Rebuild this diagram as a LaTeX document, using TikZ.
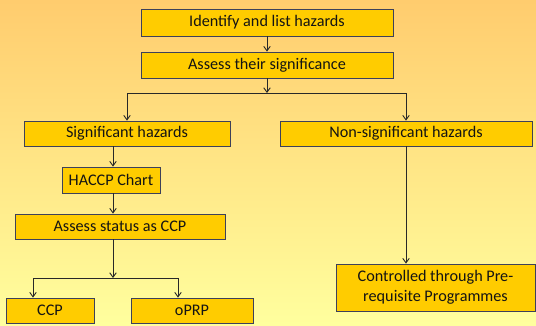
\documentclass[tikz,border=0pt]{standalone}
\usepackage{fontspec}
\setmainfont{Carlito}
\usetikzlibrary{arrows.meta}
\definecolor{bgtop}{RGB}{255,204,110}
\definecolor{bgbot}{RGB}{255,255,158}
\definecolor{boxfill}{RGB}{255,204,0}
\definecolor{boxline}{RGB}{60,64,90}
\definecolor{conline}{RGB}{40,40,40}
\tikzset{
  stepbox/.style={draw=boxline, line width=0.8pt, fill=boxfill, rectangle, inner sep=0pt,
    font=\fontsize{16.2}{20}\selectfont, text={rgb,255:red,20;green,20;blue,20}, align=center},
  conn/.style={draw=conline, line width=0.9pt},
  arr/.style={conn, -{Straight Barb[length=4.5pt,width=6.5pt]}}
}
\begin{document}
\begin{tikzpicture}[x=1pt,y=-1pt]
\shade[top color=bgtop, bottom color=bgbot] (0,0) rectangle (536,325);
\useasboundingbox (0,0) rectangle (536,325);

\node[stepbox, minimum width=252pt, minimum height=27pt] (b1) at (267,22.5) {Identify and list hazards};
\node[stepbox, minimum width=252pt, minimum height=26pt] (b2) at (267,65) {Assess their significance};
\node[stepbox, minimum width=206pt, minimum height=25pt] (sig) at (127,133.5) {Significant hazards};
\node[stepbox, minimum width=252pt, minimum height=25pt] (nonsig) at (406,133.5) {Non-significant hazards};
\node[stepbox, minimum width=98pt, minimum height=26pt] (haccp) at (111,180) {HACCP Chart};
\node[stepbox, minimum width=210pt, minimum height=25pt] (assess) at (120,226.5) {Assess status as CCP};
\node[stepbox, minimum width=88pt, minimum height=25pt] (ccp) at (50,310.5) {CCP};
\node[stepbox, minimum width=122pt, minimum height=25pt] (oprp) at (192,310.5) {oPRP};
\node[stepbox, minimum width=199pt, minimum height=47pt] (ctrl) at (435.5,287.5) {Controlled through Pre-\\requisite Programmes};

\coordinate (j1) at (267,93);
\coordinate (cx) at (113,0);
\coordinate (j2) at (113,278);
\coordinate (xccp) at (33,0);
\coordinate (xoprp) at (178,0);

\draw[arr] (b1) -- (b2);
\draw[arr] (b2) -- (j1);
\draw[arr] (j1) -| (sig.north);
\draw[arr] (j1) -| (nonsig.north);
\draw[arr] (sig.south -| cx) -- (haccp.north -| cx);
\draw[arr] (haccp.south -| cx) -- (assess.north -| cx);
\draw[arr] (assess.south -| cx) -- (j2);
\draw[arr] (j2) -| (ccp.north -| xccp);
\draw[arr] (j2) -| (oprp.north -| xoprp);
\draw[arr] (nonsig) -- (ctrl.north -| nonsig);
\end{tikzpicture}
\end{document}
